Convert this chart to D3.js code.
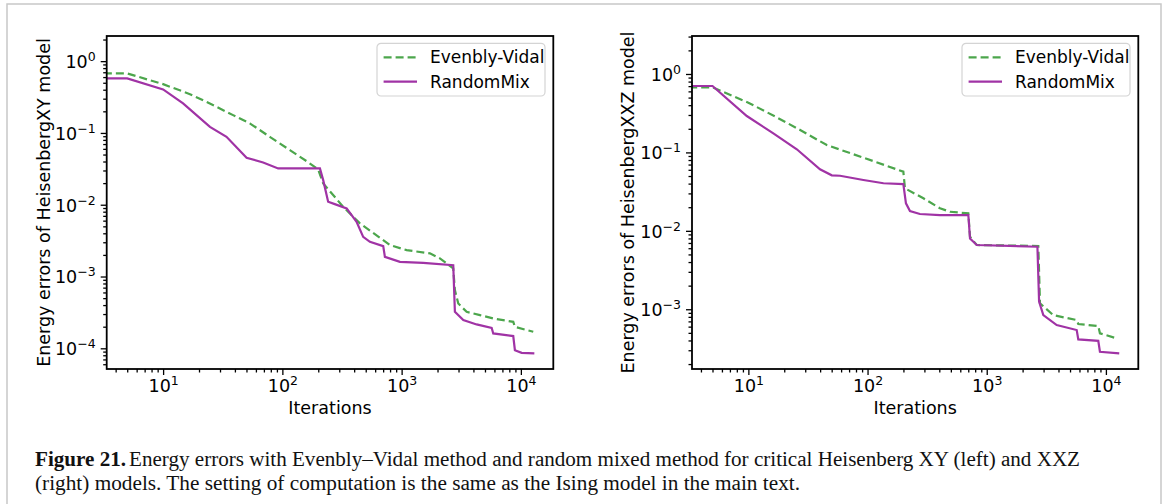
<!DOCTYPE html>
<html>
<head>
<meta charset="utf-8">
<script src="https://cdn.jsdelivr.net/npm/d3@7"></script>
<style>
    body { margin: 0; background: #fff; }
    svg { display: block; font-family: "DejaVu Sans", sans-serif; }
</style>
</head>
<body>
<svg id="fig" width="1165" height="504"></svg>
<script>
// Heisenberg XY (left panel)
const xyEvenblyIter = [1, 5, 10, 16.8, 23.1, 38.6, 53.3, 78.5, 115.6, 159.6, 199.6, 220, 323.6, 447, 701, 798, 1101, 1727, 2094, 2708, 2797, 2985, 3508, 4539, 5866, 8630, 8910, 12700];
const xyEvenblyErr = [0.674, 0.674, 0.478, 0.347, 0.271, 0.177, 0.136, 0.0883, 0.0576, 0.0405, 0.031, 0.0198, 0.00935, 0.0055, 0.00321, 0.00274, 0.00233, 0.0021, 0.00179, 0.0013, 0.000647, 0.000422, 0.000322, 0.00029, 0.00026, 0.000234, 0.000199, 0.00017];
const xyRandomIter = [1, 5, 10, 14.7, 24.7, 34, 50.1, 69, 92.2, 206.5, 220, 242, 275, 346, 419, 476, 542, 701, 724, 968, 1518, 2710, 2797, 3289, 4254, 5687, 5866, 8630, 8910, 10150, 12970];
const xyRandomErr = [0.574, 0.574, 0.404, 0.258, 0.1216, 0.0883, 0.045, 0.0388, 0.032, 0.032, 0.022, 0.011, 0.0102, 0.00888, 0.00578, 0.00357, 0.00304, 0.00265, 0.00188, 0.0016, 0.00155, 0.00144, 0.000322, 0.000247, 0.000215, 0.000193, 0.000161, 0.000148, 0.000094, 0.0000865, 0.000085];

// Heisenberg XXZ (right panel)
const xxzEvenblyIter = [1, 5, 10, 17.3, 27.2, 45.5, 92.3, 199.7, 206, 294, 405, 492, 701, 724, 824, 2710, 2799, 3622, 5688, 5866, 8630, 8910, 12330];
const xxzEvenblyErr = [0.676, 0.676, 0.43, 0.28, 0.193, 0.124, 0.0857, 0.0568, 0.0348, 0.026, 0.0194, 0.0175, 0.0167, 0.0084, 0.0066, 0.0064, 0.00119, 0.00084, 0.000728, 0.000648, 0.00061, 0.000493, 0.000425];
const xxzRandomIter = [1, 5, 9.7, 16.2, 25.5, 39.9, 50.1, 58.8, 92.3, 136, 199.7, 210, 227, 275, 405, 701, 724, 824, 2663, 2750, 2985, 3864, 5688, 5866, 8630, 8910, 12940];
const xxzRandomErr = [0.703, 0.703, 0.291, 0.175, 0.1096, 0.0608, 0.051, 0.0504, 0.0445, 0.0404, 0.0395, 0.0224, 0.0179, 0.0164, 0.0159, 0.0159, 0.008, 0.0066, 0.00627, 0.00125, 0.00084, 0.000628, 0.000543, 0.000413, 0.000396, 0.000287, 0.000274];

const seriesNames = ['Evenbly-Vidal', 'RandomMix'];
const xMajorTicks = [1e1, 1e2, 1e3, 1e4];
const xyMajorTicks = [1e0, 1e-1, 1e-2, 1e-3, 1e-4];
const xxzMajorTicks = [1e0, 1e-1, 1e-2, 1e-3];
const xLabel = 'Iterations';
const xyLabel = 'Energy errors of HeisenbergXY model';
const xxzLabel = 'Energy errors of HeisenbergXXZ model';

const GREEN = '#4ca64c';
const PURPLE = '#a033a5';

const svg = d3.select('#fig');

// page frame
svg.append('path')
    .attr('d', 'M7,504V4H1161V504')
    .attr('fill', 'none')
    .attr('stroke', '#c8c8c8')
    .attr('stroke-width', 1.5);

function minorTicks(domain) {
    const lo = Math.floor(Math.log10(Math.min(...domain)));
    const hi = Math.ceil(Math.log10(Math.max(...domain)));
    const out = [];
    for (let e = lo; e <= hi; e++) {
        for (let m = 2; m <= 9; m++) {
            const v = m * Math.pow(10, e);
            if (v >= Math.min(...domain) && v <= Math.max(...domain)) out.push(v);
        }
    }
    return out;
}

function powerLabel(sel) {
    sel.each(function (d) {
        const t = d3.select(this);
        const e = Math.round(Math.log10(d));
        t.text(null);
        t.append('tspan').text('10');
        t.append('tspan')
            .attr('dy', -7)
            .attr('font-size', 12.5)
            .text(e < 0 ? '\u2212' + (-e) : String(e));
    });
}

function drawPanel(p) {
    const w = p.width, h = p.height;
    const g = svg.append('g')
        .attr('transform', `translate(${p.left}, ${p.top})`);

    const x = d3.scaleLog().domain([3.365, 18700]).range([0, w]);
    const y = d3.scaleLog().domain(p.yDomain).range([h, 0]);

    g.append('clipPath').attr('id', p.id + '-clip')
        .append('rect').attr('width', w).attr('height', h);

    // axes: minor then major
    const styleAxis = a => {
        a.attr('font-family', '"DejaVu Sans", sans-serif').attr('font-size', 17.5);
        a.select('.domain').remove();
        a.selectAll('.tick line').attr('stroke-width', 1.3);
    };

    g.append('g')
        .attr('transform', `translate(0, ${h})`)
        .call(d3.axisBottom(x).tickValues(minorTicks(x.domain())).tickSize(3.5).tickFormat(''))
        .call(styleAxis);
    g.append('g')
        .attr('transform', `translate(0, ${h})`)
        .call(d3.axisBottom(x).tickValues(xMajorTicks).tickSize(6).tickPadding(5))
        .call(styleAxis)
        .call(a => a.selectAll('.tick text').attr('fill', '#000').call(powerLabel));

    g.append('g')
        .call(d3.axisLeft(y).tickValues(minorTicks(y.domain())).tickSize(3.5).tickFormat(''))
        .call(styleAxis);
    g.append('g')
        .call(d3.axisLeft(y).tickValues(p.yTicks).tickSize(6).tickPadding(5))
        .call(styleAxis)
        .call(a => a.selectAll('.tick text').attr('fill', '#000').attr('dy', '0.36em').call(powerLabel));

    // lines
    const line = d3.line()
        .x(d => x(d[0]))
        .y(d => y(d[1]));

    const plot = g.append('g').attr('clip-path', `url(#${p.id}-clip)`);
    plot.append('path')
        .datum(d3.zip(p.evIter, p.evErr))
        .attr('fill', 'none')
        .attr('stroke', GREEN)
        .attr('stroke-width', 2.2)
        .attr('stroke-dasharray', '8,4')
        .attr('d', line);
    plot.append('path')
        .datum(d3.zip(p.rmIter, p.rmErr))
        .attr('fill', 'none')
        .attr('stroke', PURPLE)
        .attr('stroke-width', 2.2)
        .attr('d', line);

    // frame
    g.append('rect')
        .attr('width', w).attr('height', h)
        .attr('fill', 'none')
        .attr('stroke', '#000')
        .attr('stroke-width', 1.8);

    // axis titles
    g.append('text')
        .attr('x', w / 2).attr('y', h + 45)
        .attr('text-anchor', 'middle')
        .attr('font-size', 17.5)
        .text(xLabel);
    g.append('text')
        .attr('transform', `translate(${p.yLabelX - p.left}, ${h / 2}) rotate(-90)`)
        .attr('text-anchor', 'middle')
        .attr('dy', '0.35em')
        .attr('font-size', 17.5)
        .text(p.yLabel);

    // legend
    const lw = 168, lh = 52.7;
    const leg = g.append('g').attr('transform', `translate(${w - 8.3 - lw}, 7.3)`);
    leg.append('rect')
        .attr('width', lw).attr('height', lh)
        .attr('rx', 4)
        .attr('fill', 'rgba(255,255,255,0.8)')
        .attr('stroke', '#d4d4d4')
        .attr('stroke-width', 1.2);
    [[GREEN, '8,4'], [PURPLE, null]].forEach(([c, dash], i) => {
        const cy = 14 + i * 24.4;
        leg.append('line')
            .attr('x1', 6.6).attr('x2', 40)
            .attr('y1', cy).attr('y2', cy)
            .attr('stroke', c)
            .attr('stroke-width', 2.2)
            .attr('stroke-dasharray', dash);
        leg.append('text')
            .attr('x', 53).attr('y', cy)
            .attr('dy', '0.36em')
            .attr('font-size', 17)
            .text(seriesNames[i]);
    });
}

drawPanel({
    id: 'xy', left: 106.7, top: 36, width: 446.6, height: 333,
    yDomain: [5.15e-5, 2.24], yTicks: xyMajorTicks, yLabel: xyLabel, yLabelX: 44,
    evIter: xyEvenblyIter, evErr: xyEvenblyErr, rmIter: xyRandomIter, rmErr: xyRandomErr
});
drawPanel({
    id: 'xxz', left: 692, top: 36, width: 446.3, height: 333,
    yDomain: [1.73e-4, 3.05], yTicks: xxzMajorTicks, yLabel: xxzLabel, yLabelX: 628,
    evIter: xxzEvenblyIter, evErr: xxzEvenblyErr, rmIter: xxzRandomIter, rmErr: xxzRandomErr
});

// caption
const cap = svg.append('g')
    .attr('font-family', '"Liberation Serif", serif')
    .attr('font-size', 20)
    .attr('fill', '#111');
cap.append('text')
    .attr('x', 35).attr('y', 466)
    .attr('font-weight', 'bold')
    .attr('textLength', 91).attr('lengthAdjust', 'spacingAndGlyphs')
    .text('Figure 21.');
cap.append('text')
    .attr('x', 129).attr('y', 466)
    .attr('textLength', 951).attr('lengthAdjust', 'spacingAndGlyphs')
    .text('Energy errors with Evenbly\u2013Vidal method and random mixed method for critical Heisenberg XY (left) and XXZ');
cap.append('text')
    .attr('x', 35).attr('y', 490)
    .attr('textLength', 765).attr('lengthAdjust', 'spacingAndGlyphs')
    .text('(right) models. The setting of computation is the same as the Ising model in the main text.');
</script>
</body>
</html>
